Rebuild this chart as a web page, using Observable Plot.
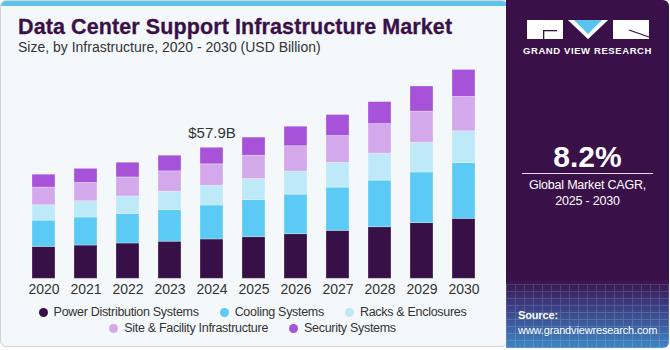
<!DOCTYPE html>
<html>
<head>
<meta charset="utf-8">
<script src="https://cdn.jsdelivr.net/npm/d3@7"></script>
<script src="https://cdn.jsdelivr.net/npm/@observablehq/plot@0.6"></script>
<style>
  html, body { margin: 0; padding: 0; background: #ffffff; }
  body { width: 670px; height: 350px; position: relative; overflow: hidden; font-family: "Liberation Sans", Arial, sans-serif; }
  #panel { position: absolute; left: 0; top: 0; width: 508px; height: 347px; background: #f4f8fb; border: 1px solid #d4d4d4; border-radius: 6px; box-sizing: border-box; overflow: hidden; }
  #stripe { position: absolute; left: 0; top: 0; width: 100%; height: 5px; background: #5bc3ec; }
  #title { position: absolute; left: 18px; top: 15px; font-size: 21.5px; font-weight: bold; color: #3a1049; white-space: nowrap; letter-spacing: 0.1px; -webkit-text-stroke: 0.3px #3a1049; }
  #subtitle { position: absolute; left: 18px; top: 39px; font-size: 14px; color: #333; white-space: nowrap; }
  #chart { position: absolute; left: 0; top: 0; }
  #legend { position: absolute; left: 0; top: 304px; width: 505px; display: flex; flex-wrap: wrap; justify-content: center; column-gap: 21px; row-gap: 0px; font-size: 12.5px; letter-spacing: -0.3px; color: #333; }
  .item { display: flex; align-items: center; height: 16px; white-space: nowrap; }
  .dot { width: 9px; height: 9px; border-radius: 50%; margin-right: 6px; }
  #side { position: absolute; left: 506px; top: 0; width: 163px; height: 348px; border-radius: 0 6px 6px 0; background: linear-gradient(to bottom, #3a1049 0%, #3a1049 80%, #3b3f82 88%, #3f86c4 100%); overflow: hidden; }
  #grid { position: absolute; left: 0; top: 284px; width: 163px; height: 64px; opacity: 0.15;
    background-image: linear-gradient(to right, rgba(255,255,255,0.9) 1px, transparent 1px), linear-gradient(to bottom, rgba(255,255,255,0.9) 1px, transparent 1px);
    background-size: 9px 7px; }
  #logo { position: absolute; left: 21px; top: 20px; }
  #gvr { position: absolute; left: 0; width: 163px; top: 45px; text-align: center; font-size: 9.5px; font-weight: bold; color: #fff; letter-spacing: 0.6px; }
  #cagr { position: absolute; left: 0; width: 163px; top: 140px; text-align: center; font-size: 30px; font-weight: bold; color: #fff; }
  #rule { position: absolute; left: 16px; width: 131px; top: 173px; height: 1px; background: #e8e0ee; }
  #cagrtxt { position: absolute; left: 0; width: 163px; top: 177px; text-align: center; font-size: 12.5px; letter-spacing: -0.2px; color: #fff; line-height: 16px; }
  #source { position: absolute; left: 12px; top: 308px; font-size: 11px; letter-spacing: -0.15px; color: #fff; line-height: 14.5px; }
</style>
</head>
<body>
<div id="panel"><div id="stripe"></div></div>
<div id="title">Data Center Support Infrastructure Market</div>
<div id="subtitle">Size, by Infrastructure, 2020 - 2030 (USD Billion)</div>
<div id="chart"></div>
<div id="legend"></div>
<div id="side">
  <div id="grid"></div>
  <svg id="logo" width="124" height="22" viewBox="0 0 124 22">
    <rect x="0" y="0" width="36" height="19" fill="#fff"/>
    <rect x="16" y="10" width="14" height="1.3" fill="#3a1049"/>
    <rect x="16" y="10" width="1.3" height="9" fill="#3a1049"/>
    <polygon points="41,0 81,0 61,19" fill="#5bc3ec"/>
    <polygon points="41,0 47,0 61,14 61,19" fill="#fff"/>
    <polygon points="81,0 75,0 61,14 61,19" fill="#fff"/>
    <rect x="86" y="0" width="36" height="19" fill="#fff"/>
    <line x1="102" y1="10" x2="122" y2="17" stroke="#3a1049" stroke-width="1.3"/>
  </svg>
  <div id="gvr">GRAND VIEW RESEARCH</div>
  <div id="cagr">8.2%</div>
  <div id="rule"></div>
  <div id="cagrtxt">Global Market CAGR,<br>2025 - 2030</div>
  <div id="source"><b>Source:</b><br>www.grandviewresearch.com</div>
</div>
<script>
const years = ["2020","2021","2022","2023","2024","2025","2026","2027","2028","2029","2030"];
const seriesNames = ["Power Distribution Systems","Cooling Systems","Racks & Enclosures","Site & Facility Infrastructure","Security Systems"];
const seriesColors = ["#371047","#5bcaf5","#bde9f9","#d4a9ec","#a653d9"];
const power    = [14.1, 14.7, 15.6, 16.4, 17.4, 18.4, 19.7, 21.2, 22.8, 24.6, 26.5];
const cooling  = [11.6, 12.4, 13.0, 14.0, 15.0, 16.4, 17.5, 19.1, 20.6, 22.4, 24.6];
const racks    = [ 6.8,  7.2,  7.8,  8.1,  8.7,  9.3, 10.2, 10.9, 11.9, 13.1, 14.1];
const site     = [ 7.8,  8.1,  8.4,  9.0,  9.5, 10.3, 11.2, 11.9, 13.1, 13.8, 15.2];
const security = [ 5.7,  6.2,  6.5,  6.9,  7.3,  8.0,  8.6,  9.3,  9.7, 11.1, 11.9];
const annotationYear = "2024";
const annotationText = "$57.9B";

const seriesValues = [power, cooling, racks, site, security];
const rows = [];
years.forEach((yr, i) => {
  seriesNames.forEach((s, j) => rows.push({year: yr, series: s, value: seriesValues[j][i]}));
});
const ai = years.indexOf(annotationYear);
const annotTotal = seriesValues.reduce((a, s) => a + s[ai], 0);

const chart = Plot.plot({
  width: 505,
  height: 300,
  marginTop: 0,
  marginBottom: 21.7,
  marginLeft: 0,
  marginRight: 0,
  style: {background: "transparent", fontFamily: "'Liberation Sans', Arial, sans-serif"},
  x: {domain: years, range: [12, 494], padding: 0.454, label: null},
  y: {domain: [0, 100], range: [278.3, 52.05], axis: null},
  color: {domain: seriesNames, range: seriesColors},
  marks: [
    Plot.barY(rows, Plot.stackY({x: "year", y: "value", fill: "series", order: seriesNames, stroke: "#ffffff", strokeOpacity: 0.35, strokeWidth: 0.8})),
    Plot.axisX({tickSize: 0, tickPadding: 5, fontSize: 14, color: "#333", label: null}),
    Plot.text([{year: annotationYear, total: annotTotal}], {x: "year", y: "total", text: () => annotationText, dy: -15, fontSize: 15, fill: "#333"})
  ]
});
document.getElementById("chart").appendChild(chart);

const legend = document.getElementById("legend");
seriesNames.forEach((s, j) => {
  const it = document.createElement("div");
  it.className = "item";
  it.innerHTML = `<span class="dot" style="background:${seriesColors[j]}"></span><span>${s.replace("&","&amp;")}</span>`;
  legend.appendChild(it);
});
</script>
</body>
</html>
